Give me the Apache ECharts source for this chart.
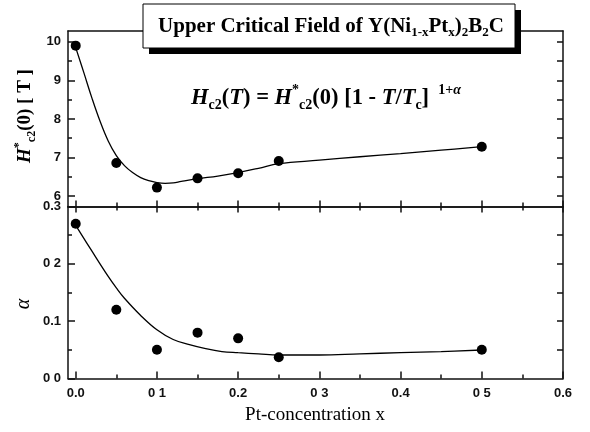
<!DOCTYPE html>
<html>
<head>
<meta charset="utf-8">
<script src="https://cdn.jsdelivr.net/npm/echarts@6/dist/echarts.min.js"></script>
<style>
html,body{margin:0;padding:0;background:#fff;}
#main{width:590px;height:432px;}
</style>
</head>
<body>
<div id="main"></div>
<script>
// ---- data ----
const xPoints = [0, 0.05, 0.1, 0.15, 0.2, 0.25, 0.5];
const hc2Points = [9.9, 6.86, 6.22, 6.46, 6.59, 6.91, 7.28];
const alphaPoints = [0.27, 0.12, 0.05, 0.08, 0.07, 0.037, 0.05];

const hc2FitX = [0, 0.01, 0.02, 0.03, 0.04, 0.05, 0.06, 0.07, 0.08, 0.09, 0.10, 0.11, 0.12, 0.13, 0.15, 0.175, 0.2, 0.225, 0.25, 0.3, 0.35, 0.4, 0.45, 0.5];
const hc2FitY = [9.85, 9.20, 8.54, 7.94, 7.43, 7.05, 6.79, 6.61, 6.48, 6.40, 6.35, 6.33, 6.34, 6.38, 6.45, 6.52, 6.61, 6.72, 6.84, 6.93, 7.02, 7.10, 7.19, 7.28];

const alphaFitX = [0, 0.02, 0.04, 0.05, 0.06, 0.08, 0.10, 0.12, 0.14, 0.16, 0.18, 0.20, 0.225, 0.25, 0.3, 0.35, 0.4, 0.45, 0.5];
const alphaFitY = [0.267, 0.222, 0.178, 0.158, 0.140, 0.110, 0.085, 0.068, 0.059, 0.052, 0.047, 0.045, 0.043, 0.041, 0.041, 0.043, 0.045, 0.047, 0.0497];

const xTickValues = [0, 0.1, 0.2, 0.3, 0.4, 0.5, 0.6];
const xTickLabels = ['0.0', '0 1', '0.2', '0 3', '0.4', '0 5', '0.6'];
const xMinorValues = [0.05, 0.15, 0.25, 0.35, 0.45, 0.55];
const hc2TickValues = [6, 7, 8, 9, 10];
const hc2TickLabels = ['6', '7', '8', '9', '10'];
const hc2MinorValues = [6.5, 7.5, 8.5, 9.5];
const hc2RightValues = [6, 6.5, 7, 7.5, 8, 8.5, 9, 9.5, 10];
const alphaTickValues = [0, 0.1, 0.2, 0.3];
const alphaTickLabels = ['0 0', '0.1', '0 2', '0.3'];
const alphaMinorValues = [0.05, 0.15, 0.25];
const alphaRightValues = [0.05, 0.1, 0.15, 0.2, 0.25];

const titleText = '{b|Upper Critical Field of Y(Ni}{s|1-x}{b|Pt}{s|x}{b|)}{s|2}{b|B}{s|2}{b|C}';
const formulaText = '{i|H}{s|c2}{b|(}{i|T}{b|) = }{i|H}{p|*}{s|c2}{b|(0) [1 - }{i|T}{b|/}{i|T}{s|c}{b|] }{p| 1+}{pi|α}';
const yTitleTop = '{i|H}{p|*}{s|c2}{b|(0) [ T ]}';
const yTitleBottom = 'α';
const xTitle = 'Pt-concentration x';

// ---- layout ----
const L = 68, R = 563, T0 = 31, MID = 206.5, B = 378.5;
const X_MIN = -0.0095, X_MAX = 0.6;
const AX = '#111';

function lab(values, labels) {
  return function (v) {
    for (let i = 0; i < values.length; i++) if (Math.abs(values[i] - v) < 1e-9) return labels[i];
    return '';
  };
}
function xAx(grid, pos, ticks, len, showLine, labels) {
  return {
    type: 'value', gridIndex: grid, position: pos, min: X_MIN, max: X_MAX,
    axisLine: { show: showLine, onZero: false, lineStyle: { color: AX, width: 1.5 } },
    axisTick: { show: !!ticks, inside: true, length: len, customValues: ticks || [], lineStyle: { color: AX, width: 1.5 } },
    axisLabel: labels ? {
      show: true, customValues: xTickValues, formatter: lab(xTickValues, xTickLabels), margin: 8,
      color: '#111', fontFamily: 'Liberation Sans', fontWeight: 'bold', fontSize: 13
    } : { show: false },
    splitLine: { show: false }
  };
}
function yAx(grid, pos, min, max, ticks, len, showLine, lv, ll) {
  return {
    type: 'value', gridIndex: grid, position: pos, min: min, max: max,
    axisLine: { show: showLine, onZero: false, lineStyle: { color: AX, width: 1.5 } },
    axisTick: { show: true, inside: true, length: len, customValues: ticks, lineStyle: { color: AX, width: 1.5 } },
    axisLabel: lv ? {
      show: true, customValues: lv, formatter: lab(lv, ll), margin: 7,
      color: '#111', fontFamily: 'Liberation Sans', fontWeight: 'bold', fontSize: 13
    } : { show: false },
    splitLine: { show: false }
  };
}

const serif = 'Liberation Serif';
function richSet(base, sub, lh, sh) {
  return {
    b: { fontFamily: serif, fontWeight: 'bold', fontSize: base, lineHeight: lh, verticalAlign: 'middle', fill: '#000', color: '#000' },
    i: { fontFamily: serif, fontWeight: 'bold', fontStyle: 'italic', fontSize: base, lineHeight: lh, verticalAlign: 'middle', fill: '#000', color: '#000' },
    s: { fontFamily: serif, fontWeight: 'bold', fontSize: sub, lineHeight: sh, height: sh, verticalAlign: 'bottom', fill: '#000', color: '#000' },
    p: { fontFamily: serif, fontWeight: 'bold', fontSize: sub, lineHeight: sh, height: sh, verticalAlign: 'top', fill: '#000', color: '#000' },
    pi: { fontFamily: serif, fontWeight: 'bold', fontStyle: 'italic', fontSize: sub, lineHeight: sh, height: sh, verticalAlign: 'top', fill: '#000', color: '#000' }
  };
}
const richTitle = richSet(21, 13, 26, 14);
const richFormula = richSet(22.5, 14, 30, 15);
const richYTitle = richSet(19, 12, 26, 13);

const chart = echarts.init(document.getElementById('main'), null, { renderer: 'canvas' });
chart.setOption({
  animation: false,
  backgroundColor: '#fff',
  grid: [
    { left: L, top: T0, width: R - L, height: MID - T0, containLabel: false },
    { left: L, top: MID, width: R - L, height: B - MID, containLabel: false }
  ],
  xAxis: [
    xAx(0, 'bottom', xTickValues, 6, true, false),      // 0
    xAx(0, 'bottom', xMinorValues, 4, false, false),    // 1
    xAx(0, 'top', null, 0, true, false),                // 2
    xAx(1, 'top', xTickValues, 6, true, false),         // 3
    xAx(1, 'top', xMinorValues, 4, false, false),       // 4
    xAx(1, 'bottom', xTickValues, 7, true, true),       // 5
    xAx(1, 'bottom', xMinorValues, 4, false, false)     // 6
  ],
  yAxis: [
    yAx(0, 'left', 5.73, 10.28, hc2TickValues, 7, true, hc2TickValues, hc2TickLabels),   // 0
    yAx(0, 'left', 5.73, 10.28, hc2MinorValues, 4, false),                              // 1
    yAx(0, 'right', 5.73, 10.28, hc2RightValues, 6, true),                              // 2
    yAx(1, 'left', 0, 0.3, alphaTickValues, 7, true, alphaTickValues, alphaTickLabels), // 3
    yAx(1, 'left', 0, 0.3, alphaMinorValues, 4, false),                                 // 4
    yAx(1, 'right', 0, 0.3, alphaRightValues, 6, true)                                  // 5
  ],
  series: [
    {
      type: 'line', xAxisIndex: 0, yAxisIndex: 0, showSymbol: false, smooth: 0.4,
      data: hc2FitX.map((x, i) => [x, hc2FitY[i]]),
      lineStyle: { color: '#000', width: 1.3 }, silent: true, z: 2
    },
    {
      type: 'scatter', xAxisIndex: 0, yAxisIndex: 0, symbol: 'circle', symbolSize: 10,
      data: xPoints.map((x, i) => [x, hc2Points[i]]),
      itemStyle: { color: '#000', opacity: 1 }, z: 3
    },
    {
      type: 'line', xAxisIndex: 5, yAxisIndex: 3, showSymbol: false, smooth: 0.4,
      data: alphaFitX.map((x, i) => [x, alphaFitY[i]]),
      lineStyle: { color: '#000', width: 1.3 }, silent: true, z: 2
    },
    {
      type: 'scatter', xAxisIndex: 5, yAxisIndex: 3, symbol: 'circle', symbolSize: 10,
      data: xPoints.map((x, i) => [x, alphaPoints[i]]),
      itemStyle: { color: '#000', opacity: 1 }, z: 3
    }
  ],
  graphic: [
    { type: 'rect', shape: { x: 149, y: 10, width: 372, height: 44 }, style: { fill: '#000' }, z: 100 },
    { type: 'rect', shape: { x: 143, y: 4, width: 372, height: 44 }, style: { fill: '#fff', stroke: '#000', lineWidth: 1 }, z: 101 },
    { type: 'text', x: 331, y: 27, z: 102,
      style: { text: titleText, rich: richTitle, align: 'center', verticalAlign: 'middle' } },
    { type: 'text', x: 326, y: 98, z: 102,
      style: { text: formulaText, rich: richFormula, align: 'center', verticalAlign: 'middle' } },
    { type: 'text', x: 25, y: 116, rotation: Math.PI / 2, z: 102,
      style: { text: yTitleTop, rich: richYTitle, align: 'center', verticalAlign: 'middle' } },
    { type: 'text', x: 24, y: 304, rotation: Math.PI / 2, z: 102,
      style: { text: yTitleBottom, fontFamily: serif, fontStyle: 'italic', fontSize: 20, fill: '#000', align: 'center', verticalAlign: 'middle' } },
    { type: 'text', x: 315, y: 415, z: 102,
      style: { text: xTitle, fontFamily: serif, fontSize: 19, fill: '#000', align: 'center', verticalAlign: 'middle' } }
  ]
});
</script>
</body>
</html>
